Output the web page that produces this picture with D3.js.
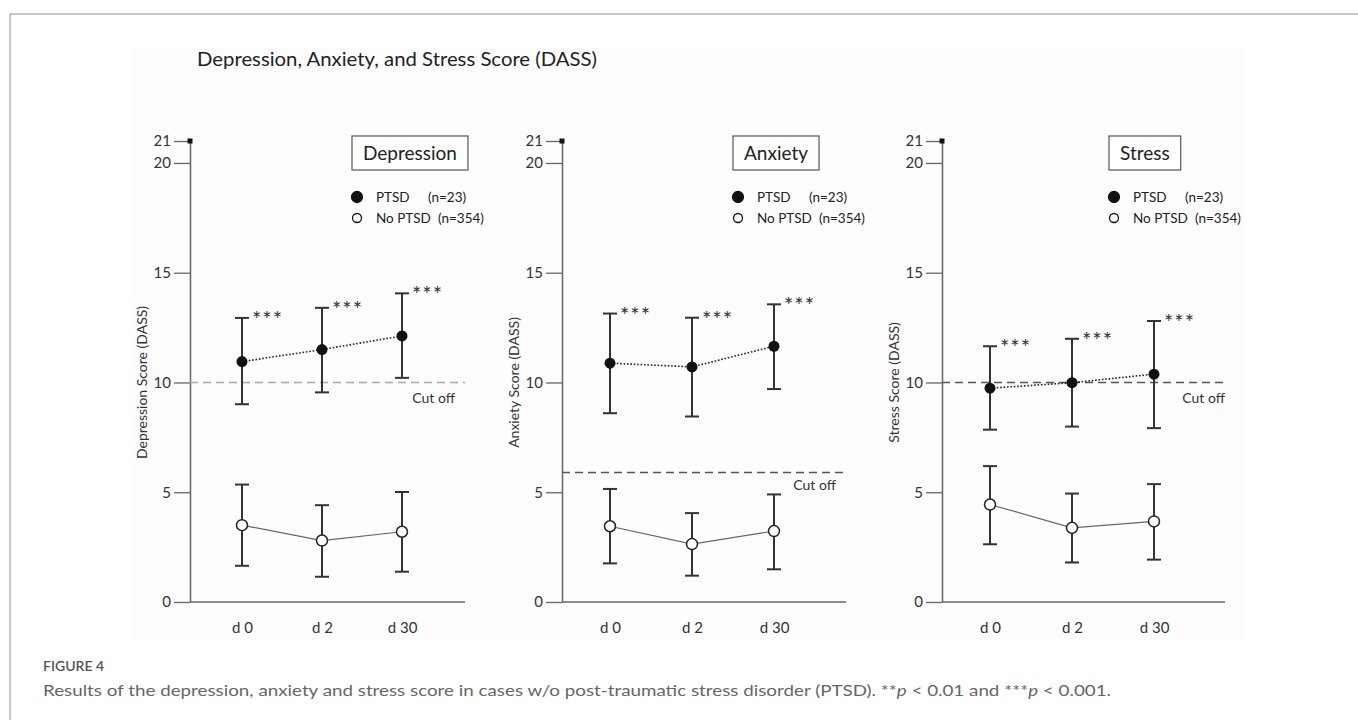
<!DOCTYPE html>
<html>
<head>
<meta charset="utf-8">
<style>
  body { margin: 0; background: #fff; }
  svg text { font-family: Lato, "Open Sans", sans-serif; }
</style>
</head>
<body>
<svg id="fig" width="1358" height="720"></svg>
<script src="https://cdnjs.cloudflare.com/ajax/libs/d3/7.8.5/d3.min.js"></script>
<script>
// data
const days = ["d 0", "d 2", "d 30"];
const panelNames = ["Depression", "Anxiety", "Stress"];
const axisTitles = ["Depression Score (DASS)", "Anxiety Score (DASS)", "Stress Score (DASS)"];
const yTicks = [0, 5, 10, 15, 20, 21];
const cutoffs = [10, 5.9, 10];
const ptsdMean = [[10.95, 11.5, 12.12], [10.88, 10.71, 11.65], [9.74, 9.99, 10.38]];
const ptsdHi = [[12.94, 13.4, 14.06], [13.14, 12.95, 13.56], [11.65, 11.99, 12.8]];
const ptsdLo = [[9.01, 9.55, 10.21], [8.6, 8.45, 9.7], [7.85, 7.99, 7.92]];
const noMean = [[3.5, 2.8, 3.2], [3.45, 2.64, 3.23], [4.44, 3.38, 3.67]];
const noHi = [[5.35, 4.41, 5.01], [5.15, 4.05, 4.9], [6.19, 4.94, 5.37]];
const noLo = [[1.65, 1.15, 1.38], [1.76, 1.2, 1.49], [2.63, 1.8, 1.93]];
const legendNames = ["PTSD", "No PTSD"];
const legendCounts = ["(n=23)", "(n=354)"];
const signif = ["***", "***", "***"];

// layout
var axisX = [190, 562, 942];
var axisLen = [275, 284, 283];
var boxLeft = [162, 171, 167];
var firstPt = [52, 48, 48];
var cutDash = ["#a8a8a8", "#555", "#555"];

var svg = d3.select("#fig");

// page frame + faint picture background
svg.append("rect").attr("x", 132).attr("y", 48).attr("width", 1111).attr("height", 592).attr("fill", "#fdfdfd");
svg.append("path").attr("d", "M10,720V14H1358").attr("fill", "none").attr("stroke", "#b5b5b5").attr("stroke-width", 1.5);

svg.append("text")
  .attr("x", 197).attr("y", 66)
  .attr("font-size", 20).attr("fill", "#222")
  .attr("textLength", 400).attr("lengthAdjust", "spacingAndGlyphs")
  .text("Depression, Anxiety, and Stress Score (DASS)");

var y = d3.scaleLinear().domain([0, 21]).range([602, 141]);

panelNames.forEach(function(name, i) {
  var ax = axisX[i];
  var g = svg.append("g");
  var x = d3.scalePoint().domain(days).range([ax + firstPt[i], ax + 212]);

  // y axis
  var yAxis = g.append("g")
    .attr("transform", "translate(" + ax + ",0)")
    .call(d3.axisLeft(y).tickValues(yTicks).tickSize(16).tickSizeOuter(0).tickPadding(3));
  yAxis.select(".domain").attr("stroke", "#666").attr("stroke-width", 1.5);
  yAxis.selectAll(".tick line").attr("stroke", "#666").attr("stroke-width", 1.3);
  yAxis.selectAll(".tick text").attr("font-size", 15).attr("fill", "#333")
    .attr("font-family", "Lato, sans-serif");
  g.append("rect").attr("x", ax - 2.5).attr("y", y(21) - 2.5).attr("width", 5).attr("height", 5).attr("fill", "#111");

  // x axis baseline and labels
  g.append("line").attr("x1", ax).attr("x2", ax + axisLen[i])
    .attr("y1", y(0)).attr("y2", y(0)).attr("stroke", "#666").attr("stroke-width", 1.5);
  var xAxis = g.append("g")
    .attr("transform", "translate(0," + y(0) + ")")
    .call(d3.axisBottom(x).tickSize(0).tickPadding(20));
  xAxis.select(".domain").remove();
  xAxis.selectAll(".tick text").attr("font-size", 15).attr("fill", "#333")
    .attr("font-family", "Lato, sans-serif");

  // axis title
  g.append("text")
    .attr("transform", "translate(" + (ax - 43) + "," + y(10) + ") rotate(-90)")
    .attr("text-anchor", "middle").attr("font-size", 14).attr("fill", "#333")
    .text(axisTitles[i]);

  // cut off
  g.append("line").attr("x1", ax).attr("x2", ax + axisLen[i])
    .attr("y1", y(cutoffs[i])).attr("y2", y(cutoffs[i]))
    .attr("stroke", cutDash[i]).attr("stroke-width", 1.5).attr("stroke-dasharray", "8,5");
  g.append("text")
    .attr("x", ax + axisLen[i] - (i == 2 ? 0 : 10)).attr("y", y(cutoffs[i]) + (i == 1 ? 18 : 21))
    .attr("text-anchor", "end").attr("font-size", 14).attr("fill", "#333")
    .text("Cut off");

  // panel name box
  var bx = ax + boxLeft[i];
  var box = g.append("rect").attr("x", bx).attr("y", 136).attr("height", 34)
    .attr("fill", "#fff").attr("stroke", "#555").attr("stroke-width", 1.2);
  var nm = g.append("text").attr("x", bx + 11).attr("y", 160)
    .attr("font-size", 19).attr("fill", "#222").text(name);
  box.attr("width", nm.node().getComputedTextLength() + 22);

  // legend
  legendNames.forEach(function(ln, k) {
    var ly = 197 + k * 21;
    g.append("circle").attr("cx", bx + 5).attr("cy", ly).attr("r", k == 0 ? 5.5 : 4.5)
      .attr("fill", k == 0 ? "#111" : "#fff").attr("stroke", "#111").attr("stroke-width", 1.3);
    g.append("text").attr("x", bx + 24).attr("y", ly + 5).attr("font-size", 13.5).attr("fill", "#222").text(ln);
    g.append("text").attr("x", bx + (k == 0 ? 76 : 86)).attr("y", ly + 5).attr("font-size", 13.5).attr("fill", "#222").text(legendCounts[k]);
  });

  // connecting lines
  var line = d3.line().x(function(d, j) { return x(days[j]); }).y(function(d) { return y(d); });
  g.append("path").attr("d", line(ptsdMean[i])).attr("fill", "none")
    .attr("stroke", "#222").attr("stroke-width", 1.6).attr("stroke-dasharray", "1.6,1.8");
  g.append("path").attr("d", line(noMean[i])).attr("fill", "none")
    .attr("stroke", "#666").attr("stroke-width", 1.2);

  // error bars
  function bars(lo, hi) {
    days.forEach(function(dd, j) {
      var cx = x(dd);
      g.append("line").attr("x1", cx).attr("x2", cx).attr("y1", y(lo[j])).attr("y2", y(hi[j]))
        .attr("stroke", "#333").attr("stroke-width", 2);
      [lo[j], hi[j]].forEach(function(v) {
        g.append("line").attr("x1", cx - 7).attr("x2", cx + 7).attr("y1", y(v)).attr("y2", y(v))
          .attr("stroke", "#333").attr("stroke-width", 2);
      });
    });
  }
  bars(ptsdLo[i], ptsdHi[i]);
  bars(noLo[i], noHi[i]);

  // markers + significance stars
  days.forEach(function(dd, j) {
    g.append("circle").attr("cx", x(dd)).attr("cy", y(ptsdMean[i][j])).attr("r", 5.5).attr("fill", "#111");
    g.append("circle").attr("cx", x(dd)).attr("cy", y(noMean[i][j])).attr("r", 5.5)
      .attr("fill", "#fff").attr("stroke", "#222").attr("stroke-width", 1.5);
    g.append("text").attr("x", x(dd) + 10).attr("y", y(ptsdHi[i][j]) + 9)
      .attr("font-family", "'Liberation Sans', sans-serif")
      .attr("font-size", 22).attr("letter-spacing", 1).attr("fill", "#333").text(signif[j]);
  });
});

// caption
svg.append("text").attr("x", 43).attr("y", 671)
  .attr("font-family", "'Open Sans', sans-serif").attr("font-weight", 600)
  .attr("font-size", 14).attr("fill", "#555").text("FIGURE 4");
var cap = svg.append("text").attr("x", 43).attr("y", 696)
  .attr("font-family", "'Open Sans', sans-serif").attr("font-size", 16).attr("fill", "#666")
  .attr("textLength", 1068).attr("lengthAdjust", "spacingAndGlyphs");
cap.append("tspan").text("Results of the depression, anxiety and stress score in cases w/o post-traumatic stress disorder (PTSD). **");
cap.append("tspan").attr("font-style", "italic").text("p");
cap.append("tspan").text(" < 0.01 and ***");
cap.append("tspan").attr("font-style", "italic").text("p");
cap.append("tspan").text(" < 0.001.");
</script>
</body>
</html>
